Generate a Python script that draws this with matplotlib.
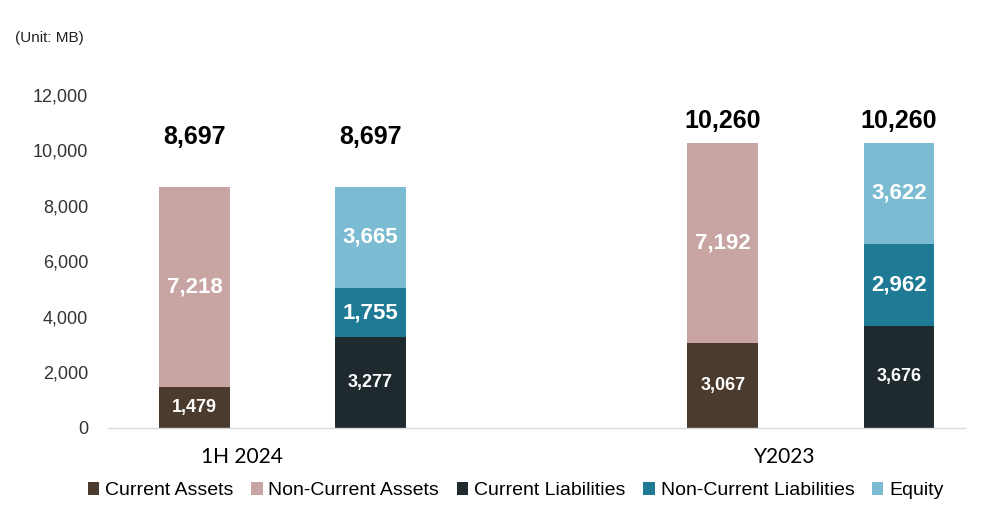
import matplotlib
matplotlib.use('Agg')
import matplotlib.pyplot as plt
import numpy as np

# data (unit: MB)
periods = ['1H 2024', 'Y2023']
current_assets = [1479, 3067]
non_current_assets = [7218, 7192]
current_liabilities = [3277, 3676]
non_current_liabilities = [1755, 2962]
equity = [3665, 3622]
totals = [8697, 10260]

colors = {
    'Current Assets': '#4b3b2f',
    'Non-Current Assets': '#c8a4a3',
    'Current Liabilities': '#1e2a2d',
    'Non-Current Liabilities': '#1f7a96',
    'Equity': '#7cbcd2',
}

plt.rcParams['font.family'] = ['Liberation Sans', 'DejaVu Sans']

fig = plt.figure(figsize=(10.05, 5.13), dpi=100)
ax = fig.add_axes([0.107, 0.166, 0.853, 0.649])

group_centers = np.array([0.5, 3.5])
asset_x = group_centers - 0.5
liab_x = group_centers + 0.5
width = 0.40
# gap between bar top and its total label, per period
total_gap = [1790, 800]
# period labels sit a little left of the group centre
label_shift = np.array([-0.23, -0.15])


# draw one stacked bar column with white labels inside each segment
def stack(xs, series, names):
    bottom = np.zeros(len(xs))
    for k, (vals, name) in enumerate(zip(series, names)):
        vals = np.array(vals, dtype=float)
        ax.bar(xs, vals, width, bottom=bottom, color=colors[name], label=name)
        for x, b, v in zip(xs, bottom, vals):
            size = 13 if k == 0 else 16
            ax.text(x, b + v / 2, f'{int(v):,}', ha='center', va='center',
                    color='white', fontsize=size, fontweight='bold')
        bottom = bottom + vals
    return bottom


top_a = stack(asset_x, [current_assets, non_current_assets],
              ['Current Assets', 'Non-Current Assets'])
top_l = stack(liab_x, [current_liabilities, non_current_liabilities, equity],
              ['Current Liabilities', 'Non-Current Liabilities', 'Equity'])

# totals above each bar
for xs, tops in [(asset_x, top_a), (liab_x, top_l)]:
    for x, t, tot, gap in zip(xs, tops, totals, total_gap):
        ax.text(x, t + gap, f'{tot:,}', ha='center', va='center',
                color='black', fontsize=18, fontweight='bold', clip_on=False)

ax.set_xlim(-0.494, 4.375)
ax.set_ylim(0, 12000)
ax.set_yticks(np.arange(0, 12001, 2000))
ax.set_yticklabels([f'{v:,}' for v in range(0, 12001, 2000)], fontsize=13,
                   color='#333333')
ax.set_xticks(group_centers + label_shift)
ax.set_xticklabels(periods, fontsize=15, family=['Lato', 'DejaVu Sans'])
ax.tick_params(axis='both', length=0)
ax.tick_params(axis='y', pad=14)
ax.tick_params(axis='x', pad=14)

for s in ['top', 'right', 'left']:
    ax.spines[s].set_visible(False)
ax.spines['bottom'].set_color('#d9d9d9')
ax.spines['bottom'].set_linewidth(1.0)

fig.text(0.015, 0.925, '(Unit: MB)', fontsize=11, ha='left', va='center',
         color='#222222')

handles, labels = ax.get_legend_handles_labels()
fig.legend(handles, labels, loc='center', bbox_to_anchor=(0.513, 0.043),
           ncol=5, frameon=False, handlelength=0.6,
           handleheight=0.6, handletextpad=0.3, columnspacing=0.9,
           prop={'family': ['Liberation Sans'], 'size': 14})

fig.savefig('out.png', dpi=100, facecolor='white')
